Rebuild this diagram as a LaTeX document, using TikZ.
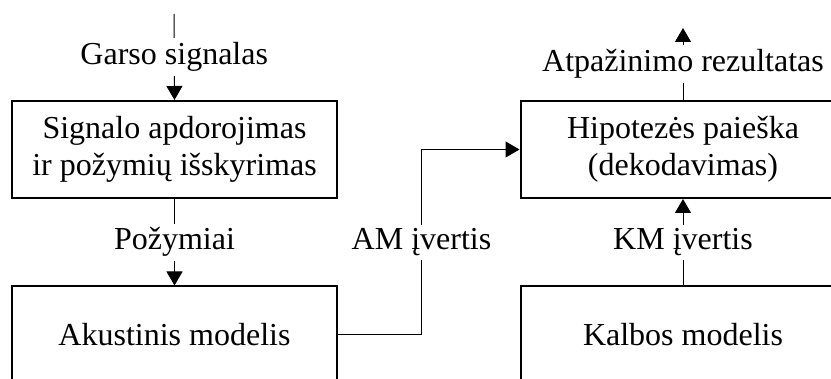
\documentclass[tikz,border=0pt]{standalone}
\usepackage{fontspec}
\setmainfont{Liberation Serif}
\usetikzlibrary{arrows.meta}
\begin{document}
\begin{tikzpicture}[x=1pt,y=1pt,
  block/.style={draw,line width=2pt,minimum width=325pt,minimum height=97pt,
    align=center,inner sep=0pt,font=\fontsize{32}{37}\selectfont},
  conn/.style={line width=1pt},
  flow/.style={conn,-{Triangle[length=14pt,width=16pt]}},
  tag/.style={fill=white,inner sep=4pt,font=\fontsize{32}{37}\selectfont}]
  \clip (0,0) rectangle (831,378);
  % processing blocks
  \node[block] (sig) at (174.5,228.5) {Signalo apdorojimas\\ir požymių išskyrimas};
  \node[block] (am)  at (174.5,43) {Akustinis modelis};
  \node[block] (hyp) at (683,228.5) {Hipotezės paieška\\(dekodavimas)};
  \node[block] (lm)  at (683,43) {Kalbos modelis};
  % free ends of the input and output lines
  \coordinate (in)  at (174,364);
  \coordinate (out) at (683,350);
  \coordinate (bend) at (421.5,0);
  % connectors
  \draw[flow] (in) -- node[tag] {Garso signalas} (sig.north);
  \draw[flow] (sig.south) -- node[tag] {Požymiai} (am.north);
  \draw[flow] (hyp.north) -- node[tag] {Atpažinimo rezultatas} (out);
  \draw[flow] (lm.north) -- node[tag] {KM įvertis} (hyp.south);
  \draw[flow] (am.east) -- (bend |- am.east)
    -- node[tag] {AM įvertis} (bend |- hyp.west) -- (hyp.west);
\end{tikzpicture}
\end{document}
